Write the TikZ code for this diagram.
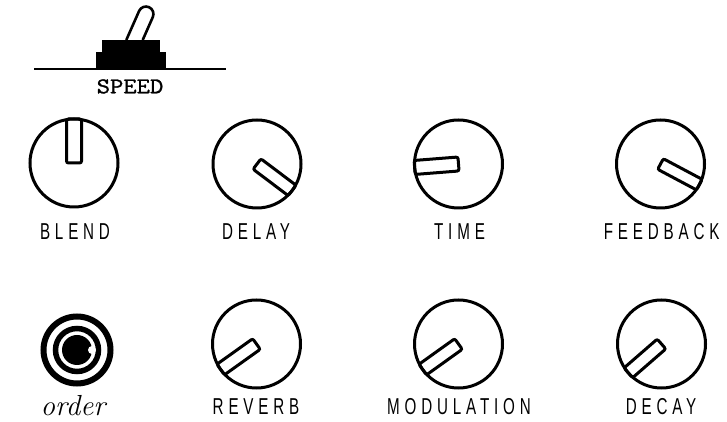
\documentclass[tikz,border=0pt]{standalone}
\usepackage{fontspec}
\newfontfamily\lblfont[FakeStretch=0.66,LetterSpace=21]{Liberation Sans}
\newfontfamily\spdfont[FakeStretch=1.15,FakeBold=1.2]{Latin Modern Mono}
\begin{document}
\begin{tikzpicture}[x=1pt,y=1pt,
  knob/.style={draw,circle,line width=3pt,inner sep=0pt,minimum size=88pt},
  pointer/.style={draw,line width=3pt,rounded corners=2pt},
  lbl/.style={anchor=base,inner sep=0pt,font=\lblfont\fontsize{23}{23}\selectfont},
  ring/.style={draw,circle,inner sep=0pt}]
\useasboundingbox (0,0) rectangle (727,422);
% speed switch
\draw[line width=2.7pt] (34,353) -- (226,353);
\fill (96,353) rectangle (166,370.3);
\fill (101.7,370) rectangle (160,382);
\draw[line width=2.6pt] (126.3,382) -- (139.1,411) arc[start angle=156,end angle=-24,radius=7.5] -- (142.7,382);
\node[anchor=base,inner sep=0pt,font=\spdfont\fontsize{22.5}{22.5}\selectfont] (speed) at (130,328.7) {SPEED};
% knobs
\foreach \nm/\x/\y/\a/\w/\t/\lx/\ly in {
  blend/74/259/90/15/BLEND/75/182.5,
  delay/257/258/-37/13/DELAY/256/182.5,
  time/458.5/258/184.5/14/TIME/459.5/182.5,
  feedback/660.5/258/-28/12/FEEDBACK/661.7/182.5,
  reverb/256.5/78/215.5/13/REVERB/256/7,
  modulation/458.5/78/215.6/13/MODULATION/459/7,
  decay/661.5/78/221/13/DECAY/661/7}{
  \node[knob] (\nm) at (\x,\y) {};
  \begin{scope}[shift={(\nm.center)},rotate=\a]
    \draw[pointer] (0,-\w/2) rectangle (44,\w/2);
  \end{scope}
  \node[lbl] (\nm-l) at (\lx,\ly) {\t};
}
% order selector
\node[ring,line width=6pt,minimum size=67pt] (orderout) at (77,72) {};
\node[ring,line width=5.5pt,minimum size=43pt] (orderin) at (orderout.center) {};
\node[circle,fill,inner sep=0pt,minimum size=30pt] (orderc) at (orderout.center) {};
\node[circle,fill=white,inner sep=0pt,minimum size=8pt] (ordernotch) at ([xshift=15pt]orderc.center) {};
\node[anchor=base,inner sep=0pt,font=\itshape\fontsize{29}{29}\selectfont] (order) at (73,6) {order};
\end{tikzpicture}
\end{document}
